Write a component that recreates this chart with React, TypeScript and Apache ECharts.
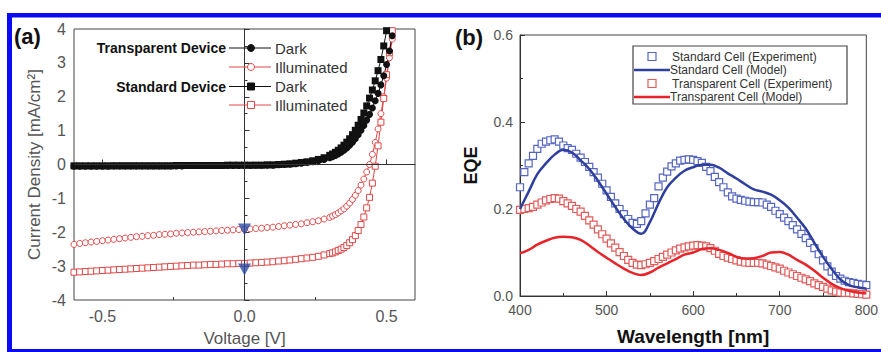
import React, { useEffect, useRef } from "react";
import * as echarts from "echarts";

// ---------- Panel (a): J–V curves ----------
const voltage = [
  -0.6, -0.58, -0.56, -0.54, -0.52, -0.5, -0.48, -0.46, -0.44, -0.42, -0.4, -0.38, -0.36, -0.34, -0.32,
  -0.3, -0.28, -0.26, -0.24, -0.22, -0.2, -0.18, -0.16, -0.14, -0.12, -0.1, -0.08, -0.06, -0.04, -0.02, 0.0,
  0.02, 0.04, 0.06, 0.08, 0.1, 0.12, 0.14, 0.16, 0.18, 0.2, 0.22, 0.24, 0.26, 0.28, 0.3,
  0.31, 0.32, 0.33, 0.34, 0.35, 0.36, 0.37, 0.38, 0.39, 0.4, 0.41, 0.42, 0.43, 0.44, 0.45, 0.46, 0.47,
  0.48, 0.49, 0.5, 0.51, 0.52, 0.53, 0.54,
];

const transparentDark = [
  -0.05, -0.05, -0.05, -0.05, -0.05, -0.05, -0.05, -0.04, -0.04, -0.04, -0.04, -0.04, -0.04, -0.04, -0.04,
  -0.04, -0.04, -0.04, -0.04, -0.04, -0.03, -0.03, -0.03, -0.03, -0.03, -0.03, -0.03, -0.03, -0.03, -0.03, -0.03,
  -0.03, -0.02, -0.02, -0.02, -0.02, -0.01, 0.0, 0.01, 0.02, 0.04, 0.06, 0.08, 0.11, 0.15, 0.2,
  0.23, 0.27, 0.31, 0.36, 0.42, 0.49, 0.57, 0.66, 0.76, 0.88, 1.01, 1.15, 1.31, 1.48, 1.67, 1.88, 2.1,
  2.35, 2.62, 2.95, 3.35, 3.8, 4.3, null,
];

const transparentIlluminated = [
  -2.36, -2.33, -2.31, -2.29, -2.27, -2.25, -2.23, -2.21, -2.19, -2.17, -2.15, -2.13, -2.12, -2.1, -2.09,
  -2.07, -2.06, -2.05, -2.03, -2.02, -2.01, -2.0, -1.99, -1.98, -1.97, -1.96, -1.95, -1.94, -1.93, -1.92, -1.91,
  -1.9, -1.89, -1.88, -1.86, -1.85, -1.83, -1.81, -1.79, -1.77, -1.75, -1.72, -1.69, -1.66, -1.61, -1.56,
  -1.52, -1.48, -1.43, -1.37, -1.31, -1.23, -1.14, -1.03, -0.91, -0.77, -0.61, -0.43, -0.22, 0.0, 0.3, 0.65, 1.05,
  1.5, 2.0, 2.55, 3.15, 3.7, 4.3, null,
];

const standardDark = [
  -0.04, -0.04, -0.04, -0.04, -0.04, -0.04, -0.04, -0.04, -0.04, -0.04, -0.04, -0.04, -0.04, -0.04, -0.04,
  -0.04, -0.04, -0.04, -0.03, -0.03, -0.03, -0.03, -0.03, -0.03, -0.03, -0.03, -0.03, -0.02, -0.02, -0.02, -0.02,
  -0.02, -0.02, -0.02, -0.01, -0.01, 0.0, 0.01, 0.02, 0.04, 0.06, 0.08, 0.11, 0.15, 0.2, 0.27,
  0.31, 0.36, 0.42, 0.49, 0.57, 0.66, 0.76, 0.88, 1.01, 1.16, 1.33, 1.52, 1.73, 1.96, 2.2, 2.47, 2.77,
  3.1, 3.5, 3.95, 4.4, null, null, null,
];

const standardIlluminated = [
  -3.18, -3.17, -3.16, -3.15, -3.14, -3.13, -3.12, -3.11, -3.1, -3.09, -3.08, -3.07, -3.06, -3.05, -3.04,
  -3.03, -3.02, -3.01, -3.0, -2.99, -2.98, -2.97, -2.97, -2.96, -2.95, -2.95, -2.94, -2.93, -2.93, -2.92, -2.92,
  -2.91, -2.9, -2.89, -2.88, -2.87, -2.85, -2.84, -2.82, -2.8, -2.78, -2.76, -2.74, -2.71, -2.67, -2.63,
  -2.61, -2.58, -2.54, -2.5, -2.45, -2.39, -2.31, -2.22, -2.1, -1.95, -1.77, -1.55, -1.28, -0.97, -0.55, -0.05, 0.55,
  1.25, 1.95, 2.65, 3.3, 3.95, 4.6, null,
];

// Short-circuit markers (blue triangles)
const jscVoltage = [0, 0];
const jscCurrent = [-1.92, -3.1];

const voltageTicks = [-0.5, 0, 0.5];
const voltageMinorTicks = [-0.25, 0.25];

// ---------- Panel (b): EQE ----------
const wlExp = [
  400, 405, 410, 415, 420, 425, 430, 435, 440, 445, 450, 455, 460, 465, 470, 475, 480, 485, 490, 495,
  500, 505, 510, 515, 520, 525, 530, 535, 540, 545, 550, 555, 560, 565, 570, 575, 580, 585, 590, 595,
  600, 605, 610, 615, 620, 625, 630, 635, 640, 645, 650, 655, 660, 665, 670, 675, 680, 685, 690, 695,
  700, 705, 710, 715, 720, 725, 730, 735, 740, 745, 750, 755, 760, 765, 770, 775, 780, 785, 790, 795, 800,
];

const standardExp = [
  0.25, 0.285, 0.305, 0.322, 0.338, 0.35, 0.355, 0.358, 0.36, 0.355, 0.346, 0.34, 0.336, 0.327, 0.318, 0.308, 0.297, 0.285, 0.272, 0.258,
  0.243, 0.228, 0.213, 0.2, 0.188, 0.177, 0.168, 0.166, 0.172, 0.19, 0.21, 0.225, 0.252, 0.272, 0.286, 0.298, 0.305, 0.311, 0.313, 0.314,
  0.313, 0.31, 0.306, 0.297, 0.287, 0.274, 0.262, 0.25, 0.238, 0.229, 0.224, 0.221, 0.219, 0.217, 0.216, 0.216, 0.215, 0.21, 0.205, 0.196,
  0.188, 0.18, 0.172, 0.163, 0.153, 0.143, 0.133, 0.122, 0.11, 0.096, 0.082, 0.068, 0.056, 0.046, 0.04, 0.035, 0.032, 0.03, 0.028, 0.026, 0.025,
];

const transparentExp = [
  0.198, 0.2, 0.202, 0.205, 0.21, 0.215, 0.22, 0.223, 0.225, 0.224, 0.218, 0.213, 0.207, 0.2, 0.194, 0.184, 0.174, 0.164, 0.153, 0.142,
  0.132, 0.121, 0.111, 0.101, 0.092, 0.083, 0.076, 0.072, 0.071, 0.073, 0.076, 0.08, 0.085, 0.09, 0.095, 0.1, 0.105, 0.109, 0.112, 0.114,
  0.116, 0.117, 0.116, 0.114, 0.11, 0.104, 0.097, 0.092, 0.088, 0.085, 0.082, 0.079, 0.077, 0.076, 0.076, 0.076, 0.075, 0.072, 0.069, 0.066,
  0.063, 0.058, 0.054, 0.05, 0.046, 0.042, 0.038, 0.034, 0.029, 0.025, 0.021, 0.017, 0.013, 0.01, 0.008, 0.007, 0.007, 0.006, 0.005, 0.004, 0.003,
];

const wlModel = [
  400, 410, 420, 430, 440, 450, 460, 470, 480, 490, 500, 510, 520, 530, 540, 550, 560, 570, 580, 590,
  600, 610, 620, 630, 640, 650, 660, 670, 680, 690, 700, 710, 720, 730, 740, 750, 760, 770, 780, 790, 800,
];

const standardModel = [
  0.2, 0.24, 0.28, 0.305, 0.325, 0.336, 0.33, 0.312, 0.292, 0.265, 0.235, 0.205, 0.177, 0.155, 0.143, 0.17, 0.213, 0.25, 0.272, 0.288,
  0.296, 0.302, 0.302, 0.295, 0.282, 0.27, 0.257, 0.245, 0.24, 0.233, 0.22, 0.203, 0.18, 0.155, 0.122, 0.09, 0.062, 0.038, 0.025, 0.02, 0.017,
];

const transparentModel = [
  0.098, 0.106, 0.118, 0.127, 0.134, 0.136, 0.135, 0.129, 0.116, 0.101, 0.088, 0.075, 0.063, 0.053, 0.048, 0.054, 0.065, 0.075, 0.085, 0.095,
  0.1, 0.108, 0.11, 0.106, 0.099, 0.09, 0.086, 0.087, 0.092, 0.1, 0.101, 0.095, 0.083, 0.072, 0.058, 0.042, 0.028, 0.018, 0.012, 0.008, 0.006,
];

const FONT = "'Liberation Sans', Arial, sans-serif";
const BLACK = "#111111";
const RED = "#e04848";
const BLUE_EXP = "#5566c2";
const BLUE_LINE = "#2f3f9e";
const RED_EXP = "#e25a5a";
const RED_LINE = "#e8232a";
const FRAME = "#0a0af5";

const pairs = (xs: number[], ys: (number | null)[]) =>
  xs.map((x, i) => [x, ys[i]]).filter((p) => p[1] !== null);

function buildOption() {
  const legendA: any[] = [];
  const rowsA = [
    { y: 48, label: "Transparent Device", color: BLACK, sym: "circle", fill: BLACK, text: "Dark" },
    { y: 67, label: "", color: RED, sym: "circle", fill: "#fff", text: "Illuminated" },
    { y: 86.5, label: "Standard Device", color: BLACK, sym: "rect", fill: BLACK, text: "Dark" },
    { y: 105, label: "", color: RED, sym: "rect", fill: "#fff", text: "Illuminated" },
  ];
  rowsA.forEach((r) => {
    if (r.label) {
      legendA.push({
        type: "text", x: 226, y: r.y, z: 100,
        style: { text: r.label, font: `bold 14px ${FONT}`, fill: "#111", align: "right", verticalAlign: "middle" },
      });
    }
    legendA.push({ type: "line", z: 100, shape: { x1: 229, y1: r.y, x2: 271, y2: r.y }, style: { stroke: r.color, lineWidth: 1 } });
    if (r.sym === "circle") {
      legendA.push({ type: "circle", z: 101, shape: { cx: 251, cy: r.y, r: 3.5 }, style: { fill: r.fill, stroke: r.color, lineWidth: 1 } });
    } else {
      legendA.push({ type: "rect", z: 101, shape: { x: 247.5, y: r.y - 3.5, width: 7, height: 7 }, style: { fill: r.fill, stroke: r.color, lineWidth: 1 } });
    }
    legendA.push({
      type: "text", x: 275, y: r.y, z: 100,
      style: { text: r.text, font: `15px ${FONT}`, fill: "#333", verticalAlign: "middle" },
    });
  });

  const legendB: any[] = [
    { type: "rect", z: 100, shape: { x: 633, y: 46, width: 214, height: 58 }, style: { fill: "#fff", stroke: "#444", lineWidth: 1.2 } },
  ];
  const rowsB = [
    { y: 56.5, kind: "sq", color: BLUE_EXP, text: "Standard Cell (Experiment)" },
    { y: 70, kind: "ln", color: BLUE_LINE, text: "Standard Cell (Model)" },
    { y: 83.5, kind: "sq", color: RED_EXP, text: "Transparent Cell (Experiment)" },
    { y: 97, kind: "ln", color: RED_LINE, text: "Transparent Cell (Model)" },
  ];
  rowsB.forEach((r) => {
    if (r.kind === "sq") {
      legendB.push({ type: "rect", z: 101, shape: { x: 648, y: r.y - 4, width: 8, height: 8 }, style: { fill: "#fff", stroke: r.color, lineWidth: 1.2 } });
    } else {
      legendB.push({ type: "line", z: 101, shape: { x1: 634, y1: r.y, x2: 670, y2: r.y }, style: { stroke: r.color, lineWidth: 2.5 } });
    }
    legendB.push({
      type: "text", z: 101, x: r.kind === "sq" ? 672 : 670, y: r.y,
      style: { text: r.text, font: `12px ${FONT}`, fill: "#333", verticalAlign: "middle" },
    });
  });

  const frame: any[] = [
    { type: "rect", z: 200, shape: { x: 7, y: 13, width: 874, height: 4.5 }, style: { fill: FRAME } },
    { type: "rect", z: 200, shape: { x: 7, y: 13, width: 5, height: 339 }, style: { fill: FRAME } },
    { type: "rect", z: 200, shape: { x: 7, y: 349, width: 874, height: 3 }, style: { fill: FRAME } },
  ];

  const panelLabels: any[] = [
    { type: "text", z: 100, x: 14, y: 36, style: { text: "(a)", font: `bold 22px ${FONT}`, fill: "#111", verticalAlign: "middle" } },
    { type: "text", z: 100, x: 455, y: 37, style: { text: "(b)", font: `bold 22px ${FONT}`, fill: "#111", verticalAlign: "middle" } },
  ];

  const axisLine = { show: true, lineStyle: { color: "#333", width: 1 } };

  return {
    animation: false,
    backgroundColor: "#fff",
    textStyle: { fontFamily: FONT },
    grid: [
      { left: 74, top: 29, width: 341, height: 274, show: true, borderColor: "#444", borderWidth: 1, backgroundColor: "transparent" },
      { left: 520, top: 35, width: 354, height: 261, show: true, borderColor: "#444", borderWidth: 1, backgroundColor: "transparent" },
    ],
    xAxis: [
      {
        gridIndex: 0, type: "value", min: -0.6, max: 0.6,
        axisLine,
        axisTick: { show: true, inside: true, length: 5, customValues: voltageTicks, lineStyle: { color: "#333" } },
        axisLabel: { customValues: voltageTicks, formatter: (v: number) => v.toFixed(1), fontSize: 16, color: "#555", margin: 8 },
        splitLine: { show: false },
        name: "Voltage [V]", nameLocation: "middle", nameGap: 30,
        nameTextStyle: { fontSize: 17, color: "#555" },
      },
      {
        gridIndex: 0, type: "value", min: -0.6, max: 0.6, position: "bottom",
        axisLine: { show: false },
        axisTick: { show: true, inside: true, length: 3, customValues: voltageMinorTicks, lineStyle: { color: "#333" } },
        axisLabel: { show: false },
        splitLine: { show: false },
      },
      {
        gridIndex: 1, type: "value", min: 400, max: 800, interval: 100,
        axisLine,
        axisTick: { show: true, inside: true, length: 5, lineStyle: { color: "#333" } },
        minorTick: { show: true, splitNumber: 2, length: 3, lineStyle: { color: "#333" } },
        axisLabel: { fontSize: 14, color: "#555", margin: 7 },
        splitLine: { show: false },
        name: "Wavelength [nm]", nameLocation: "middle", nameGap: 31,
        nameTextStyle: { fontSize: 19, fontWeight: "bold", color: "#111" },
      },
    ],
    yAxis: [
      {
        gridIndex: 0, type: "value", min: -4, max: 4, interval: 1,
        axisLine,
        axisTick: { show: true, inside: true, length: 5, lineStyle: { color: "#333" } },
        minorTick: { show: true, splitNumber: 2, length: 3, lineStyle: { color: "#333" } },
        axisLabel: { fontSize: 16, color: "#555", margin: 8 },
        splitLine: { show: false },
        name: "Current Density [mA/cm²]", nameLocation: "middle", nameGap: 31,
        nameTextStyle: { fontSize: 17, color: "#555" },
      },
      {
        gridIndex: 1, type: "value", min: 0, max: 0.6, interval: 0.2,
        axisLine,
        axisTick: { show: true, inside: true, length: 5, lineStyle: { color: "#333" } },
        minorTick: { show: true, splitNumber: 2, length: 3, lineStyle: { color: "#333" } },
        axisLabel: { fontSize: 14, color: "#555", margin: 7, formatter: (v: number) => v.toFixed(1) },
        splitLine: { show: false },
        name: "EQE", nameLocation: "middle", nameGap: 40,
        nameTextStyle: { fontSize: 18, fontWeight: "bold", color: "#111" },
      },
    ],
    series: [
      {
        name: "Transparent Illuminated", type: "line", xAxisIndex: 0, yAxisIndex: 0,
        data: pairs(voltage, transparentIlluminated),
        symbol: "circle", symbolSize: 6,
        itemStyle: { color: "#fff", borderColor: RED, borderWidth: 1 },
        lineStyle: { color: RED, width: 1 },
        markLine: {
          silent: true, symbol: "none", label: { show: false },
          lineStyle: { color: "#333", width: 1, type: "solid" },
          data: [
            [{ coord: [-0.6, 0] }, { coord: [0.6, 0] }],
            [{ coord: [0, 4] }, { coord: [0, 3.77] }],
            [{ coord: [0, 1.49] }, { coord: [0, -4] }],
          ],
        },
      },
      {
        name: "Standard Illuminated", type: "line", xAxisIndex: 0, yAxisIndex: 0,
        data: pairs(voltage, standardIlluminated),
        symbol: "rect", symbolSize: 6,
        itemStyle: { color: "#fff", borderColor: RED, borderWidth: 1 },
        lineStyle: { color: RED, width: 1 },
      },
      {
        name: "Standard Dark", type: "line", xAxisIndex: 0, yAxisIndex: 0,
        data: pairs(voltage, standardDark),
        symbol: "rect", symbolSize: 7,
        itemStyle: { color: BLACK },
        lineStyle: { color: BLACK, width: 1 },
      },
      {
        name: "Transparent Dark", type: "line", xAxisIndex: 0, yAxisIndex: 0,
        data: pairs(voltage, transparentDark),
        symbol: "circle", symbolSize: 7,
        itemStyle: { color: BLACK },
        lineStyle: { color: BLACK, width: 1 },
      },
      {
        name: "Jsc", type: "scatter", xAxisIndex: 0, yAxisIndex: 0,
        data: pairs(jscVoltage, jscCurrent),
        symbol: "triangle", symbolRotate: 180, symbolSize: [13, 12],
        itemStyle: { color: "#2d4ea6" }, z: 5,
      },
      {
        name: "Standard Cell (Experiment)", type: "line", xAxisIndex: 2, yAxisIndex: 1,
        data: pairs(wlExp, standardExp),
        symbol: "rect", symbolSize: 7,
        itemStyle: { color: "#fff", borderColor: BLUE_EXP, borderWidth: 1.2 },
        lineStyle: { width: 0, opacity: 0 },
      },
      {
        name: "Transparent Cell (Experiment)", type: "line", xAxisIndex: 2, yAxisIndex: 1,
        data: pairs(wlExp, transparentExp),
        symbol: "rect", symbolSize: 7,
        itemStyle: { color: "#fff", borderColor: RED_EXP, borderWidth: 1.2 },
        lineStyle: { width: 0, opacity: 0 },
      },
      {
        name: "Standard Cell (Model)", type: "line", xAxisIndex: 2, yAxisIndex: 1,
        data: pairs(wlModel, standardModel),
        smooth: 0.4, showSymbol: false, symbol: "none",
        lineStyle: { color: BLUE_LINE, width: 2.5 }, z: 4,
      },
      {
        name: "Transparent Cell (Model)", type: "line", xAxisIndex: 2, yAxisIndex: 1,
        data: pairs(wlModel, transparentModel),
        smooth: 0.4, showSymbol: false, symbol: "none",
        lineStyle: { color: RED_LINE, width: 2.5 }, z: 4,
      },
    ],
    graphic: [...legendA, ...legendB, ...panelLabels, ...frame],
  };
}

export default function App() {
  const ref = useRef<HTMLDivElement>(null);
  useEffect(() => {
    if (!ref.current) return;
    const chart = echarts.init(ref.current, null, { renderer: "svg" });
    chart.setOption(buildOption() as any);
    return () => chart.dispose();
  }, []);
  return (
    <div
      ref={ref}
      style={{ position: "fixed", left: 0, top: 0, width: 881, height: 352, background: "#fff" }}
    />
  );
}
